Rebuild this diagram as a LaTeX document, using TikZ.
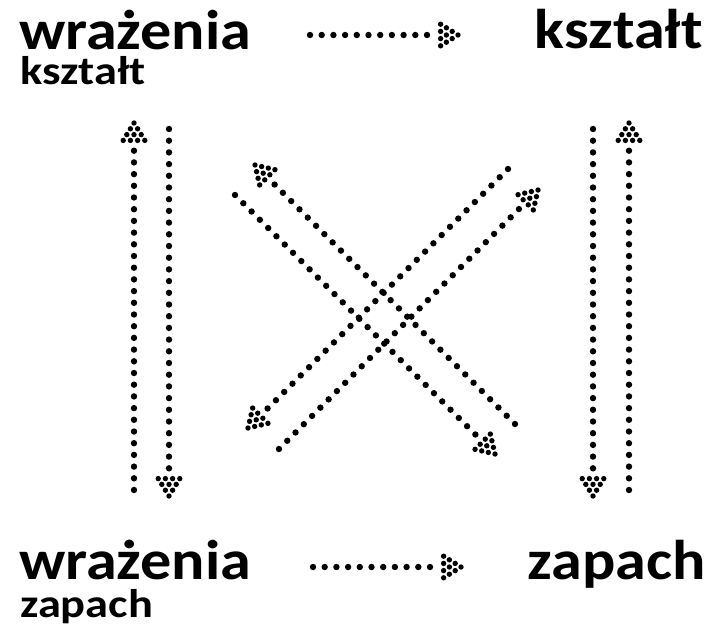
\documentclass[tikz,border=0pt]{standalone}
\usepackage{fontspec}
\setmainfont{Carlito}
\newfontfamily\bigfont{Carlito}[FakeStretch=1.11]
\newfontfamily\smallfont{Carlito}[FakeStretch=1.16]
\begin{document}
\begin{tikzpicture}[x=1pt,y=1pt,
  big/.style={font=\bigfont\fontsize{56}{60}\selectfont\bfseries, inner sep=0pt},
  small/.style={font=\smallfont\fontsize{40}{44}\selectfont\bfseries, inner sep=0pt},
  dotline/.style={line width=6.4pt, line cap=round, dash pattern=on 0pt off 11.7pt, shorten >=24pt},
  dothead/.pic={
    \foreach \i in {0,...,3}{
      \foreach \j in {0,...,\i}{
        \fill (-\i*5.8, \j*7.2-\i*3.6) circle (2.7pt);
      }
    }
  }]
\useasboundingbox (0,0) rectangle (718,-630);

% text
\node[big, anchor=base west] (tl) at (19,-49) {wrażenia};
\node[small, anchor=base west] (tls) at (20,-84) {kształt};
\node[big, anchor=base east] (tr) at (703,-48) {kształt};
\node[big, anchor=base west] (bl) at (19,-579) {wrażenia};
\node[small, anchor=base west] (bls) at (20,-617) {zapach};
\node[big, anchor=base east] (br) at (706,-579) {zapach};

% coordinates
\coordinate (h1s) at (310,-35);  \coordinate (h1t) at (458,-35);
\coordinate (h2s) at (313,-567); \coordinate (h2t) at (461,-567);
\coordinate (v1s) at (134,-490); \coordinate (v1t) at (134,-123);
\coordinate (v2s) at (169,-129); \coordinate (v2t) at (169,-496);
\coordinate (v3s) at (593,-129); \coordinate (v3t) at (593,-496);
\coordinate (v4s) at (629,-490); \coordinate (v4t) at (629,-123);
\coordinate (dAs) at (515,-424); \coordinate (dAt) at (255,-165);
\coordinate (dBs) at (235,-195); \coordinate (dBt) at (495,-454);
\coordinate (dCs) at (508,-169); \coordinate (dCt) at (248,-428);
\coordinate (dDs) at (279,-449); \coordinate (dDt) at (538,-190);

% connectors
\draw[dotline] (h1s) -- (h1t); \pic at (h1t) {dothead};
\draw[dotline] (h2s) -- (h2t); \pic at (h2t) {dothead};
\draw[dotline] (v1s) -- (v1t); \pic[rotate=90] at (v1t) {dothead};
\draw[dotline] (v2s) -- (v2t); \pic[rotate=-90] at (v2t) {dothead};
\draw[dotline] (v3s) -- (v3t); \pic[rotate=-90] at (v3t) {dothead};
\draw[dotline] (v4s) -- (v4t); \pic[rotate=90] at (v4t) {dothead};
\draw[dotline] (dAs) -- (dAt); \pic[rotate=135] at (dAt) {dothead};
\draw[dotline] (dBs) -- (dBt); \pic[rotate=-45] at (dBt) {dothead};
\draw[dotline] (dCs) -- (dCt); \pic[rotate=-135] at (dCt) {dothead};
\draw[dotline] (dDs) -- (dDt); \pic[rotate=45] at (dDt) {dothead};
\end{tikzpicture}
\end{document}
